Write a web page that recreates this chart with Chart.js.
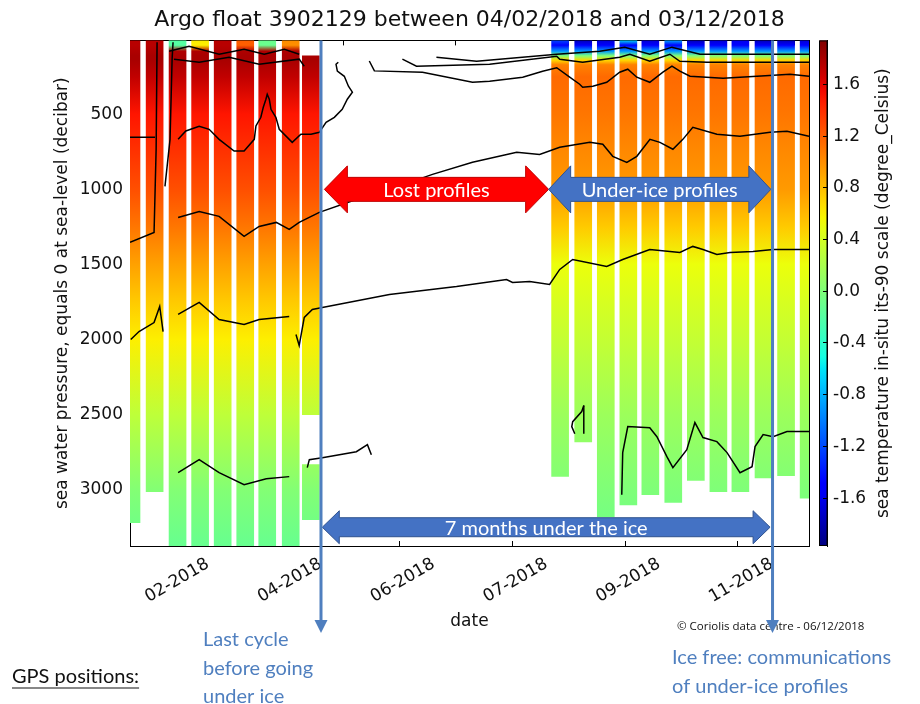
<!DOCTYPE html>
<html>
<head>
<meta charset="utf-8">
<script src="https://cdn.jsdelivr.net/npm/chart.js@4/dist/chart.umd.min.js"></script>
<style>
  html, body { margin: 0; padding: 0; background: #fff; }
  #wrap { width: 920px; height: 704px; }
</style>
</head>
<body>
<div id="wrap"><canvas id="section"></canvas></div>
<script>
// ---- axes ----
const tickDays = [32, 92, 152, 212, 272, 332];
const tickLabels = ['02-2018', '04-2018', '06-2018', '07-2018', '09-2018', '11-2018'];
const pressureTicks = [500, 1000, 1500, 2000, 2500, 3000];
const tempTicks = [1.6, 1.2, 0.8, 0.4, 0.0, -0.4, -0.8, -1.2, -1.6];
const DAY_MIN = 8.6, DAY_MAX = 369.8;
const P_MIN = 8, P_MAX = 3375;
const TEMP_MIN = -1.97, TEMP_MAX = 1.94;

// ---- temperature profiles (degC) on pressure levels (decibar) ----
const pressureLevels = [5, 40, 80, 110, 140, 170, 250, 500, 750, 1000, 1250, 1500, 1750, 2000, 2500, 3000, 3400];
const tempBeforeIce = [1.75, 1.75, 1.78, 1.8, 1.8, 1.78, 1.72, 1.5, 1.38, 1.26, 1.1, 0.92, 0.75, 0.6, 0.3, 0.02, -0.12];
const tempUnderIce = [-1.75, -1.5, -0.9, 0.0, 0.7, 1.05, 1.15, 1.1, 1.02, 0.95, 0.75, 0.52, 0.42, 0.33, 0.14, 0.0, -0.1];

// profiles before going under ice (last one has a gap in depth)
const beforeDays = [9.4, 21.7, 33.9, 45.9, 57.9, 69.9, 81.6, 94.1, 104.8, 104.8];
const beforeTop = [5, 5, 5, 5, 5, 5, 5, 5, 111, 2833];
const beforeBottom = [3220, 3013, 3375, 3375, 3375, 3375, 3375, 3375, 2500, 3200];
const beforeSurface = [1.75, 1.75, -0.2, 0.6, 1.75, 1.2, -0.1, 1.0, 1.7, 1.7];

// under-ice profiles sent after ice free
const underDays = [237.4, 249.7, 261.7, 273.7, 285.4, 297.6, 309.6, 321.6, 333.3, 345.6, 357.6, 369.6];
const underTop = [5, 5, 5, 5, 5, 5, 5, 5, 5, 5, 5, 5];
const underBottom = [2911, 2682, 3182, 3102, 3033, 3084, 2938, 3013, 3013, 2922, 2907, 3056];
const underSurface = [-1.2, -1.8, -1.7, -0.6, -1.7, -0.8, -1.8, -1.7, -1.6, -1.8, -1.8, -1.7];

// ---- contour lines [day, pressure] ----
const contourUpperLeft = [[34.2,667],[38.3,611],[45.4,580],[50.7,600],[56.0,667],[64.0,745],[69.3,745],[74.7,667],[75.6,578],[78.2,520],[79.5,453],[80.9,400],[81.6,367],[82.7,400],[83.6,467],[86.2,520],[88.0,600],[94.9,687],[99.5,633],[104.9,633],[109.3,620],[112.9,553],[117.3,520],[121.5,467],[124.2,400],[126.9,353],[124.8,313],[122.6,247],[118.9,213],[118.2,167],[119.4,153]];
const contourShallow = [[135.9,145],[138.6,211],[164.2,220],[190.8,287],[199.9,280],[217.5,253],[228.1,213],[235.6,190],[242.5,253],[247.8,300],[249.4,320],[254.8,313],[262.2,287],[269.1,220],[273.4,200],[278.2,253],[285.1,287],[292.1,220],[296.9,180],[301.1,213],[306.5,247],[324.1,260],[342.1,247],[359.7,233],[369.8,247]];
const contourSurfaceA = [[153.5,133],[161.0,180],[199.9,167],[235.6,113],[237.2,133],[249.4,153],[269.1,120],[274.5,100],[285.1,147],[295.8,100],[301.1,147],[315.5,153],[369.8,153]];
const contourSurfaceB = [[171.6,120],[193.0,147],[235.6,100],[258.5,80],[271.8,53],[285.1,100],[296.9,53],[311.8,100],[369.8,100]];
const contourLeftTopA = [[29.4,80],[40.0,47],[56.0,100],[69.3,67],[80.0,100],[90.7,67],[98.6,100]];
const contourLeftTopB = [[32.0,133],[45.4,153],[61.3,120],[77.3,167],[98.6,133],[101.3,180]];
const contourFirstEdge = [[8.6,1353],[21.4,1287],[22.5,733],[23.0,20]];
const contourFirstBox = [[8.6,653],[21.9,653]];
const contourFirstSpike = [[27.2,980],[29.9,667],[31.0,133],[31.5,20]];
const contourMid = [[34.2,1187],[45.4,1147],[56.0,1180],[69.3,1313],[77.3,1247],[86.4,1220],[93.3,1267],[98.6,1220],[109.3,1153],[128.9,1067],[146.6,1000],[169.5,900],[190.8,820],[214.3,753],[226.5,767],[237.2,720],[253.2,687],[260.1,700],[265.4,780],[272.9,820],[278.2,780],[285.2,667],[290.5,687],[297.4,733],[302.7,667],[308.0,587],[320.8,633],[333.1,647],[349.1,620],[358.1,613],[369.8,647]];
const contourDeepLeftA = [[9.0,2000],[13.4,1947],[21.4,1887],[24.4,1780],[26.2,1947]];
const contourDeepLeftB = [[34.2,1833],[45.4,1753],[56.0,1867],[69.3,1900],[77.3,1867],[93.3,1847]];
const contourDeep = [[96.9,1967],[98.6,2040],[101.3,1853],[105.6,1800],[110.9,1787],[146.6,1700],[182.3,1647],[208.9,1600],[212.1,1620],[221.2,1613],[231.8,1633],[237.2,1533],[244.1,1467],[262.2,1513],[270.7,1467],[285.1,1400],[301.1,1420],[308.0,1380],[313.4,1400],[320.8,1433],[327.8,1420],[340.0,1413],[350.7,1400],[369.8,1400]];
const contourBottomLeft = [[34.2,2887],[45.4,2800],[56.0,2887],[69.3,2967],[81.1,2927],[93.3,2913]];
const contourBottomGap = [[102.9,2853],[104.0,2800],[110.9,2787],[129.0,2747],[134.9,2700],[137.0,2767]];
const contourIslandA = [[250.0,2440],[248.9,2480],[244.1,2547],[243.6,2580],[245.2,2627]];
const contourIslandB = [[250.0,2440],[250.0,2627]];
const contourBottomRight = [[270.2,3033],[270.7,2753],[273.4,2580],[285.1,2587],[288.9,2647],[294.2,2780],[297.4,2853],[304.8,2733],[309.1,2553],[313.4,2653],[320.8,2680],[326.2,2753],[333.1,2887],[339.5,2847],[341.1,2713],[345.4,2633],[350.7,2647],[358.1,2613],[369.8,2613]];

// ---- annotation anchors ----
const lastCycleDay = 110.2;
const iceFreeDay = 350.4;
const lostSpan = [112.0, 231.3];
const underIceSpan = [231.3, 349.5];
const monthsSpan = [110.9, 349.1];
const arrowPressure = 1000;
const monthsPressure = 3250;

// jet colormap
function lerp(t, xs, ys) {
  for (let i = 1; i < xs.length; i++) {
    if (t <= xs[i]) return ys[i - 1] + (ys[i] - ys[i - 1]) * (t - xs[i - 1]) / (xs[i] - xs[i - 1]);
  }
  return ys[ys.length - 1];
}
function jet(t) {
  t = Math.max(0, Math.min(1, t));
  const r = lerp(t, [0, 0.35, 0.66, 0.89, 1], [0, 0, 1, 1, 0.5]);
  const g = lerp(t, [0, 0.125, 0.375, 0.64, 0.91, 1], [0, 0, 1, 1, 0, 0]);
  const b = lerp(t, [0, 0.11, 0.34, 0.65, 1], [0.5, 1, 1, 0, 0]);
  return 'rgb(' + Math.round(r * 255) + ',' + Math.round(g * 255) + ',' + Math.round(b * 255) + ')';
}
const norm = v => (v - TEMP_MIN) / (TEMP_MAX - TEMP_MIN);

function profileFill(c, temps, surface, nSurf) {
  if (c.type !== 'data' || !c.chart.chartArea) return '#ff8000';
  const y = c.chart.scales.y;
  const y0 = y.getPixelForValue(pressureLevels[0]);
  const y1 = y.getPixelForValue(pressureLevels[pressureLevels.length - 1]);
  const grad = c.chart.ctx.createLinearGradient(0, y0, 0, y1);
  pressureLevels.forEach((p, i) => {
    const t = i < nSurf ? surface[c.dataIndex] : temps[i];
    grad.addColorStop((y.getPixelForValue(p) - y0) / (y1 - y0), jet(norm(t)));
  });
  return grad;
}

const contours = [contourUpperLeft, contourShallow, contourSurfaceA, contourSurfaceB, contourLeftTopA, contourLeftTopB,
  contourFirstEdge, contourFirstBox, contourFirstSpike, contourMid, contourDeepLeftA, contourDeepLeftB, contourDeep,
  contourBottomLeft, contourBottomGap, contourIslandA, contourIslandB, contourBottomRight];

const FONT = 'DejaVu Sans';
const NOTE_FONT = 'Lato';
const NOTE_BLUE = '#4f7fbf';

const withTicks = list => scale => { scale.ticks = list.map(v => ({ value: v })); };

function doubleArrow(ctx, xl, xr, yc, shaft, head, headLen, fill, stroke, text) {
  ctx.beginPath();
  ctx.moveTo(xl, yc);
  ctx.lineTo(xl + headLen, yc - head / 2);
  ctx.lineTo(xl + headLen, yc - shaft / 2);
  ctx.lineTo(xr - headLen, yc - shaft / 2);
  ctx.lineTo(xr - headLen, yc - head / 2);
  ctx.lineTo(xr, yc);
  ctx.lineTo(xr - headLen, yc + head / 2);
  ctx.lineTo(xr - headLen, yc + shaft / 2);
  ctx.lineTo(xl + headLen, yc + shaft / 2);
  ctx.lineTo(xl + headLen, yc + head / 2);
  ctx.closePath();
  ctx.fillStyle = fill;
  ctx.fill();
  ctx.strokeStyle = stroke;
  ctx.lineWidth = 1;
  ctx.stroke();
  ctx.fillStyle = '#fff';
  ctx.font = '20px ' + NOTE_FONT;
  ctx.textAlign = 'center';
  ctx.textBaseline = 'middle';
  ctx.fillText(text, (xl + xr) / 2, yc + 1);
}

function downArrow(ctx, x, top, tip) {
  ctx.strokeStyle = NOTE_BLUE;
  ctx.fillStyle = NOTE_BLUE;
  ctx.lineWidth = 3;
  ctx.beginPath();
  ctx.moveTo(x, top);
  ctx.lineTo(x, tip - 10);
  ctx.stroke();
  ctx.beginPath();
  ctx.moveTo(x - 6.5, tip - 13);
  ctx.lineTo(x + 6.5, tip - 13);
  ctx.lineTo(x, tip);
  ctx.closePath();
  ctx.fill();
}

const overlay = {
  id: 'overlay',
  beforeDraw(chart) {
    const { ctx } = chart;
    const yc = chart.scales.yc;
    const yb = yc.getPixelForValue(TEMP_MIN), yt = yc.getPixelForValue(TEMP_MAX);
    const grad = ctx.createLinearGradient(0, yb, 0, yt);
    for (let i = 0; i <= 40; i++) grad.addColorStop(i / 40, jet(i / 40));
    ctx.save();
    ctx.fillStyle = grad;
    ctx.fillRect(yc.left - 7.5, yt, 7.5, yb - yt);
    ctx.strokeStyle = '#000';
    ctx.lineWidth = 1;
    ctx.strokeRect(yc.left - 7.5, yt + 0.5, 7.5, yb - yt - 1);
    ctx.restore();
  },
  afterDraw(chart) {
    const { ctx, chartArea } = chart;
    const xs = chart.scales.x, ys = chart.scales.y, yc = chart.scales.yc;
    const px = d => xs.getPixelForValue(d);
    const py = p => ys.getPixelForValue(p);
    ctx.save();

    // colorbar label
    ctx.save();
    ctx.translate(yc.left + 56.5, (chartArea.top + chartArea.bottom) / 2);
    ctx.rotate(-Math.PI / 2);
    ctx.fillStyle = '#111';
    ctx.font = '17px ' + FONT;
    ctx.textAlign = 'center';
    ctx.textBaseline = 'middle';
    ctx.fillText('sea temperature in-situ its-90 scale (degree_Celsius)', 0, 0);
    ctx.restore();

    // arrows over the section
    doubleArrow(ctx, px(lostSpan[0]), px(lostSpan[1]), py(arrowPressure), 24, 47, 23, '#ff0000', '#c00000', 'Lost profiles');
    doubleArrow(ctx, px(underIceSpan[0]), px(underIceSpan[1]), py(arrowPressure), 24, 47, 22, '#4472c4', '#2f528f', 'Under-ice profiles');
    doubleArrow(ctx, px(monthsSpan[0]), px(monthsSpan[1]), py(monthsPressure), 19, 33, 17, '#4472c4', '#2f528f', '7 months under the ice');

    // credits
    ctx.fillStyle = '#111';
    ctx.font = '11.5px "Open Sans"';
    ctx.textAlign = 'left';
    ctx.textBaseline = 'middle';
    ctx.fillText('\u00a9 Coriolis data centre - 06/12/2018', 677, 627);

    // vertical markers
    const xl = px(lastCycleDay), xr = px(iceFreeDay);
    downArrow(ctx, xl, chartArea.top, 633);
    downArrow(ctx, xr, chartArea.top, 633);

    // notes
    ctx.font = '20px ' + NOTE_FONT;
    ctx.fillStyle = NOTE_BLUE;
    ctx.textAlign = 'left';
    ctx.textBaseline = 'middle';
    ['Last cycle', 'before going', 'under ice'].forEach((s, i) => ctx.fillText(s, xl - 118, 640 + i * 28.5));
    ['Ice free: communications', 'of under-ice profiles'].forEach((s, i) => ctx.fillText(s, xr - 100.5, 658 + i * 29));

    ctx.fillStyle = '#111';
    ctx.fillText('GPS positions:', 12, 677);
    const w = ctx.measureText('GPS positions:').width;
    ctx.strokeStyle = '#111';
    ctx.lineWidth = 1.2;
    ctx.beginPath();
    ctx.moveTo(12, 688);
    ctx.lineTo(12 + w, 688);
    ctx.stroke();
    ctx.restore();
  }
};

const tickFont = { family: FONT, size: 17 };
const frame = { display: true, color: '#000', width: 1 };
const innerTicks = len => ({ drawOnChartArea: false, drawTicks: true, tickLength: len, color: '#000' });

const datasets = [
  {
    type: 'bar',
    data: beforeDays.map((d, i) => ({ x: d, y: [beforeTop[i], beforeBottom[i]] })),
    backgroundColor: c => profileFill(c, tempBeforeIce, beforeSurface, 2),
    borderWidth: 0,
    barThickness: 17,
    grouped: false,
    order: 2
  },
  {
    type: 'bar',
    data: underDays.map((d, i) => ({ x: d, y: [underTop[i], underBottom[i]] })),
    backgroundColor: c => profileFill(c, tempUnderIce, underSurface, 1),
    borderWidth: 0,
    barThickness: 17,
    grouped: false,
    order: 2
  }
].concat(contours.map(pts => ({
  type: 'line',
  data: pts.map(([x, y]) => ({ x: x, y: y })),
  borderColor: '#000',
  borderWidth: 1.5,
  pointRadius: 0,
  fill: false,
  tension: 0,
  order: 1
})));

new Chart(document.getElementById('section'), {
  type: 'bar',
  data: { datasets: datasets },
  plugins: [overlay],
  options: {
    responsive: true,
    maintainAspectRatio: false,
    animation: false,
    layout: { padding: 0 },
    plugins: {
      legend: { display: false },
      tooltip: { enabled: false },
      title: {
        display: true,
        fullSize: false,
        text: 'Argo float 3902129 between 04/02/2018 and 03/12/2018',
        color: '#111',
        font: { family: FONT, size: 22, weight: 'normal' },
        padding: { top: 7, bottom: 7 }
      }
    },
    scales: {
      x: {
        type: 'linear', position: 'bottom', min: DAY_MIN, max: DAY_MAX, offset: false, z: 1,
        afterBuildTicks: withTicks(tickDays),
        afterFit: s => { s.height = 158; },
        grid: Object.assign(innerTicks(-5), { offset: false }),
        border: frame,
        ticks: {
          autoSkip: false, minRotation: 30, maxRotation: 30, padding: 13, labelOffset: 34,
          font: tickFont, color: '#111',
          callback: v => tickLabels[tickDays.indexOf(v)]
        },
        title: { display: true, text: 'date', color: '#111', font: tickFont, padding: { top: 0, bottom: 72 } }
      },
      x2: {
        type: 'linear', position: 'top', min: DAY_MIN, max: DAY_MAX, offset: false, z: 1,
        afterBuildTicks: withTicks(tickDays),
        afterFit: s => { s.height = 0; },
        grid: innerTicks(-5), border: frame,
        ticks: { display: false }
      },
      y: {
        type: 'linear', position: 'left', reverse: true, min: P_MIN, max: P_MAX, z: 1,
        afterBuildTicks: withTicks(pressureTicks),
        afterFit: s => { s.width = 130; },
        grid: innerTicks(-5), border: frame,
        ticks: { font: tickFont, color: '#111', padding: 12, callback: v => String(v) },
        title: {
          display: true, text: 'sea water pressure, equals 0 at sea-level (decibar)',
          color: '#111', font: tickFont, padding: { top: 52, bottom: 0 }
        }
      },
      y2: {
        type: 'linear', position: 'right', reverse: true, min: P_MIN, max: P_MAX, z: 1, weight: 0,
        afterBuildTicks: withTicks(pressureTicks),
        afterFit: s => { s.width = 18; },
        grid: innerTicks(-5), border: frame,
        ticks: { display: false }
      },
      yc: {
        type: 'linear', position: 'right', min: TEMP_MIN, max: TEMP_MAX, z: 1, weight: 1,
        afterBuildTicks: withTicks(tempTicks),
        afterFit: s => { s.width = 93; },
        grid: innerTicks(-4), border: frame,
        ticks: { font: tickFont, color: '#111', padding: 10, callback: v => v.toFixed(1) }
      }
    }
  }
});
</script>
</body>
</html>
